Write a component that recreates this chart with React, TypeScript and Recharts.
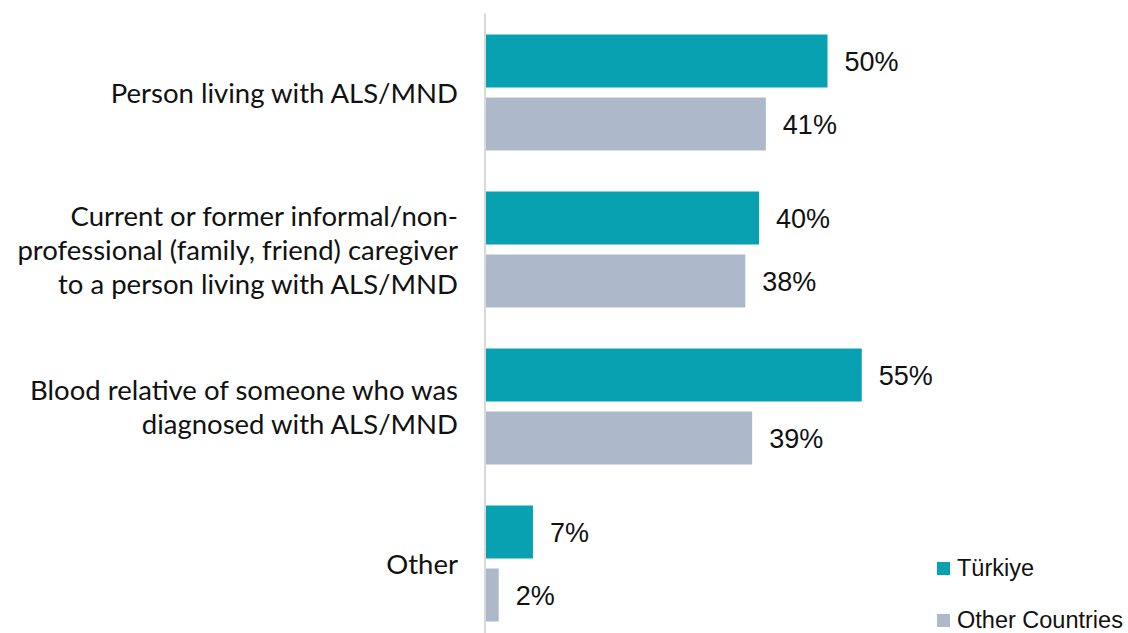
import React from "react";
import { BarChart, Bar, XAxis, YAxis, LabelList } from "recharts";

const categories = [
  "Person living with ALS/MND",
  "Current or former informal/non-professional (family, friend) caregiver to a person living with ALS/MND",
  "Blood relative of someone who was diagnosed with ALS/MND",
  "Other",
];
const categoryLines = [
  ["Person living with ALS/MND"],
  ["Current or former informal/non-", "professional (family, friend) caregiver", "to a person living with ALS/MND"],
  ["Blood relative of someone who was", "diagnosed with ALS/MND"],
  ["Other"],
];
const turkiye = [50, 40, 55, 7];
const otherCountries = [41, 38, 39, 2];
const seriesNames = ["Türkiye", "Other Countries"];
const colors = ["#07A1B1", "#ADB8CA"];

const data = categories.map((c, i) => ({
  name: c,
  turkiye: turkiye[i],
  other: otherCountries[i],
}));

const CatTick = (props: any) => {
  const { x, y, payload } = props;
  const lines = categoryLines[payload.index] || [String(payload.value)];
  const lh = 34;
  const start = y - ((lines.length - 1) * lh) / 2;
  return (
    <text
      x={x}
      y={start}
      textAnchor="end"
      dominantBaseline="central"
      fontFamily="Lato, 'Open Sans', sans-serif"
      fontSize={27.5}
      fill="#111"
    >
      {lines.map((l, i) => (
        <tspan key={i} x={x} y={start + i * lh} dominantBaseline="central">
          {l}
        </tspan>
      ))}
    </text>
  );
};

const LegendBox = () => (
  <div
    style={{
      position: "absolute",
      left: 937,
      top: 542,
      fontFamily: "'Liberation Sans', Arial, sans-serif",
      fontSize: 23.5,
      color: "#111",
    }}
  >
    {seriesNames.map((n, i) => (
      <div key={n} style={{ display: "flex", alignItems: "center", height: 52 }}>
        <span style={{ width: 13, height: 13, background: colors[i], display: "inline-block", marginRight: 7 }} />
        <span>{n}</span>
      </div>
    ))}
  </div>
);

const labelStyle = { fontFamily: "'Liberation Sans', Arial, sans-serif", fontSize: 27, fill: "#111" };

export default function App() {
  return (
    <div style={{ position: "fixed", left: 0, top: 0, width: 1128, height: 633, overflow: "hidden", background: "#fff" }}>
      <BarChart
        width={1128}
        height={660}
        data={data}
        layout="vertical"
        margin={{ top: 13.5, right: 232, bottom: 18.5, left: 0 }}
        barSize={53}
        barGap={10}
      >
        <XAxis type="number" domain={[0, 60]} hide />
        <YAxis
          type="category"
          dataKey="name"
          width={485}
          axisLine={{ stroke: "#D9D9D9", strokeWidth: 2 }}
          tickLine={false}
          tickSize={0}
          tickMargin={27}
          tick={<CatTick />}
          interval={0}
        />
        <Bar dataKey="turkiye" name={seriesNames[0]} fill={colors[0]} isAnimationActive={false}>
          <LabelList dataKey="turkiye" position="right" offset={17} formatter={(v: any) => `${v}%`} style={labelStyle} />
        </Bar>
        <Bar dataKey="other" name={seriesNames[1]} fill={colors[1]} isAnimationActive={false}>
          <LabelList dataKey="other" position="right" offset={17} formatter={(v: any) => `${v}%`} style={labelStyle} />
        </Bar>
      </BarChart>
      <LegendBox />
    </div>
  );
}
